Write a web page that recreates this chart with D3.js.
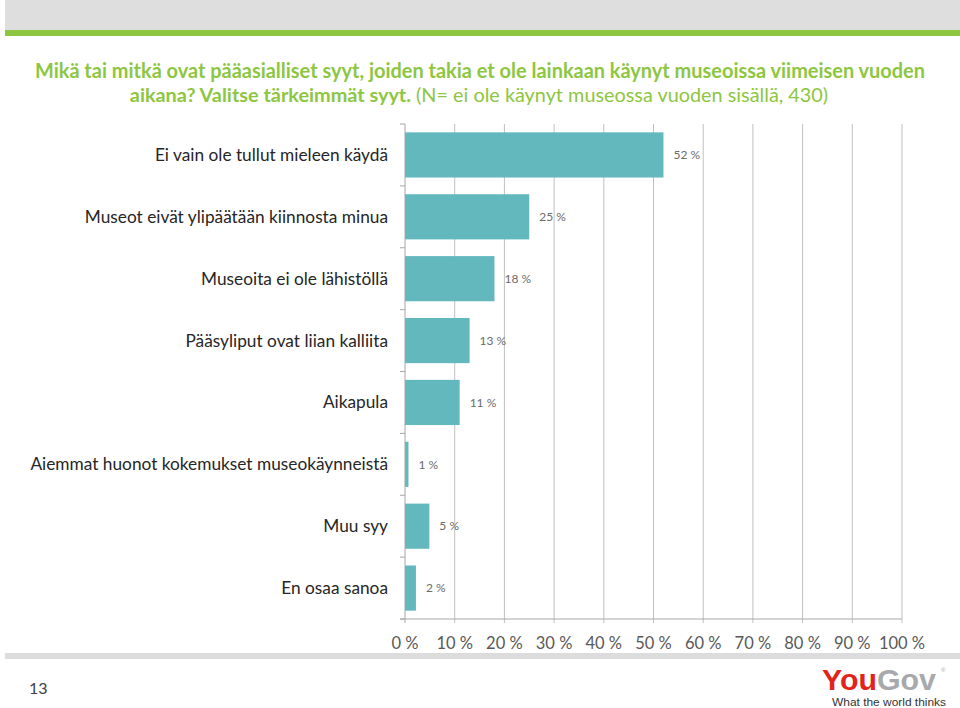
<!DOCTYPE html>
<html>
<head>
<meta charset="utf-8">
<script src="https://cdn.jsdelivr.net/npm/d3@7"></script>
<style>
  html, body { margin: 0; padding: 0; background: #fff; }
  svg { display: block; }
</style>
</head>
<body>
<svg id="chart" width="960" height="708"></svg>
<script>
// ---- data ----
const categories = [
  "Ei vain ole tullut mieleen käydä",
  "Museot eivät ylipäätään kiinnosta minua",
  "Museoita ei ole lähistöllä",
  "Pääsyliput ovat liian kalliita",
  "Aikapula",
  "Aiemmat huonot kokemukset museokäynneistä",
  "Muu syy",
  "En osaa sanoa"
];
const values = [52, 25, 18, 13, 11, 0.7, 4.9, 2.2];
const valueLabels = ["52 %", "25 %", "18 %", "13 %", "11 %", "1 %", "5 %", "2 %"];
const tickValues = [0, 10, 20, 30, 40, 50, 60, 70, 80, 90, 100];
const tickLabels = ["0 %", "10 %", "20 %", "30 %", "40 %", "50 %", "60 %", "70 %", "80 %", "90 %", "100 %"];
const titleLine1 = "Mikä tai mitkä ovat pääasialliset syyt, joiden takia et ole lainkaan käynyt museoissa viimeisen vuoden";
const titleLine2Bold = "aikana? Valitse tärkeimmät syyt.";
const titleLine2Regular = " (N= ei ole käynyt museossa vuoden sisällä, 430)";
const pageNumber = "13";

// ---- setup ----
const svg = d3.select("#chart");
const FONT = "Lato, 'Open Sans', sans-serif";
const GREEN = "#8dc63f";

// header band
svg.append("rect").attr("x", 5).attr("y", 0).attr("width", 955).attr("height", 31).attr("fill", "#dedede");
svg.append("rect").attr("x", 5).attr("y", 30).attr("width", 955).attr("height", 6).attr("fill", GREEN);
// footer band
svg.append("rect").attr("x", 5).attr("y", 653).attr("width", 955).attr("height", 6).attr("fill", "#dcdcdc");

// title
const t1 = svg.append("text").attr("x", 480).attr("y", 78)
  .attr("text-anchor", "middle").attr("font-family", FONT)
  .attr("font-weight", "bold").attr("font-size", 18).attr("fill", GREEN)
  .text(titleLine1);
{
  const w = t1.node().getComputedTextLength();
  t1.attr("font-size", 18 * 891 / w);
}
const fs1 = +t1.attr("font-size");
const t2 = svg.append("text").attr("x", 479).attr("y", 102)
  .attr("text-anchor", "middle").attr("font-family", FONT)
  .attr("font-size", fs1).attr("fill", GREEN);
t2.append("tspan").attr("font-weight", "bold").text(titleLine2Bold);
t2.append("tspan").attr("font-weight", "normal").text(titleLine2Regular);
{
  const w = t2.node().getComputedTextLength();
  t2.attr("font-size", fs1 * 698 / w);
}

// scales
const x = d3.scaleLinear().domain([0, 100]).range([405, 902]);
const y = d3.scaleBand().domain(categories).range([124, 619])
  .paddingInner(0.27).paddingOuter(0.135);

// gridlines
svg.append("g").selectAll("line").data(tickValues.slice(1)).join("line")
  .attr("x1", d => x(d)).attr("x2", d => x(d))
  .attr("y1", 124).attr("y2", 623)
  .attr("stroke", "#c0c0c0").attr("stroke-width", 1);

// bars
svg.append("g").selectAll("rect").data(values).join("rect")
  .attr("x", x(0))
  .attr("y", (d, i) => y(categories[i]))
  .attr("width", d => x(d) - x(0))
  .attr("height", y.bandwidth())
  .attr("fill", "#62b8bd");

// value labels
svg.append("g").selectAll("text").data(values).join("text")
  .attr("x", d => x(d) + 10)
  .attr("y", (d, i) => y(categories[i]) + y.bandwidth() / 2)
  .attr("dy", "0.35em")
  .attr("font-family", FONT).attr("font-size", 12).attr("fill", "#6b6b6b")
  .text((d, i) => valueLabels[i]);

// left axis
const bandEdges = d3.range(categories.length + 1).map(i => 124 + i * y.step());
svg.append("line").attr("x1", x(0)).attr("x2", x(0)).attr("y1", 124).attr("y2", 619)
  .attr("stroke", "#a6a6a6");
svg.append("g").selectAll("line").data(bandEdges).join("line")
  .attr("x1", x(0) - 5).attr("x2", x(0)).attr("y1", d => d).attr("y2", d => d)
  .attr("stroke", "#a6a6a6");

// bottom axis
svg.append("line").attr("x1", x(0) - 5).attr("x2", x(100)).attr("y1", 619).attr("y2", 619)
  .attr("stroke", "#a6a6a6");
svg.append("line").attr("x1", x(0)).attr("x2", x(0)).attr("y1", 619).attr("y2", 623)
  .attr("stroke", "#a6a6a6");

// category labels
const catTexts = svg.append("g").selectAll("text").data(categories).join("text")
  .attr("x", 388)
  .attr("y", d => y(d) + y.bandwidth() / 2)
  .attr("dy", "0.35em")
  .attr("text-anchor", "end")
  .attr("font-family", FONT).attr("font-size", 17).attr("fill", "#262626")
  .text(d => d);
{
  const w = catTexts.nodes()[5].getComputedTextLength();
  catTexts.attr("font-size", 17 * 358 / w);
}

// x tick labels
svg.append("g").selectAll("text").data(tickValues).join("text")
  .attr("x", d => x(d)).attr("y", 649)
  .attr("text-anchor", "middle")
  .attr("font-family", FONT).attr("font-size", 16.5).attr("fill", "#595959")
  .text((d, i) => tickLabels[i]);

// page number
svg.append("text").attr("x", 29).attr("y", 694)
  .attr("font-family", FONT).attr("font-size", 16).attr("fill", "#404040")
  .text(pageNumber);

// YouGov logo
const logo = svg.append("text").attr("x", 822).attr("y", 690)
  .attr("font-family", "'Liberation Sans', Arial, sans-serif")
  .attr("font-weight", "bold").attr("font-size", 30)
  .attr("textLength", 114).attr("lengthAdjust", "spacingAndGlyphs");
logo.append("tspan").attr("fill", "#e2231a").text("You");
logo.append("tspan").attr("fill", "#a7a9ac").text("Gov");
svg.append("text").attr("x", 941).attr("y", 672)
  .attr("font-family", "'Liberation Sans', Arial, sans-serif")
  .attr("font-size", 6).attr("fill", "#a7a9ac").text("®");
svg.append("text").attr("x", 832).attr("y", 706)
  .attr("font-family", "'Liberation Sans', Arial, sans-serif")
  .attr("font-size", 11).attr("fill", "#333333")
  .attr("textLength", 114).attr("lengthAdjust", "spacingAndGlyphs")
  .text("What the world thinks");
</script>
</body>
</html>
